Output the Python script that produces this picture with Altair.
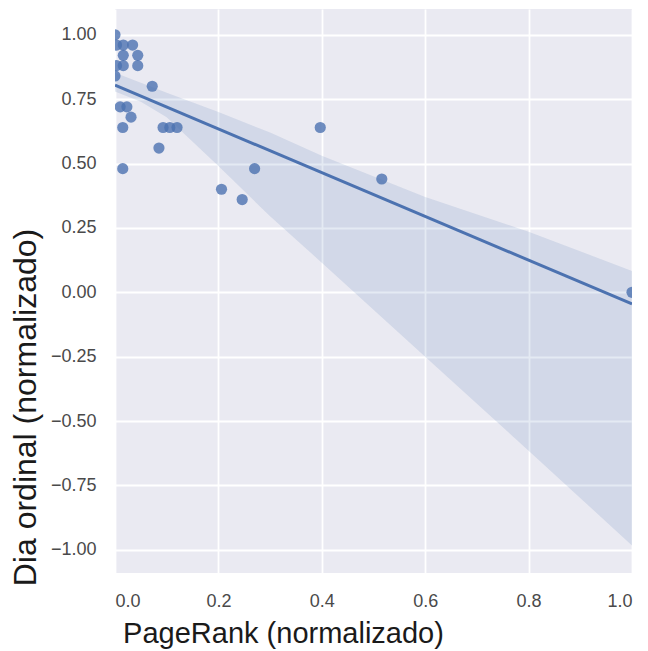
import altair as alt
import pandas as pd

# Scatter data
pagerank = [0.0, 0.003, 0.016, 0.034, 0.016, 0.044, 0.003, 0.016, 0.044, 0.0,
            0.072, 0.01, 0.023, 0.031, 0.015, 0.093, 0.106, 0.12, 0.085,
            0.015, 0.27, 0.397, 0.516, 0.206, 0.246, 1.0]
dia = [1.00, 0.96, 0.96, 0.96, 0.92, 0.92, 0.88, 0.88, 0.88, 0.84,
       0.80, 0.72, 0.72, 0.68, 0.64, 0.64, 0.64, 0.64, 0.56,
       0.48, 0.48, 0.64, 0.44, 0.40, 0.36, 0.00]

# Confidence band
band_x = [0.0, 0.05, 0.1, 0.2, 0.3, 0.4, 0.6, 0.8, 1.0]
band_lo = [0.78, 0.74, 0.68, 0.49, 0.295, 0.115, -0.25, -0.615, -0.983]
band_hi = [0.852, 0.814, 0.775, 0.70, 0.62, 0.53, 0.37, 0.235, 0.083]

x_ticks = [0.0, 0.2, 0.4, 0.6, 0.8, 1.0]
y_ticks = [-1.0, -0.75, -0.5, -0.25, 0.0, 0.25, 0.5, 0.75, 1.0]

pts = pd.DataFrame({"x": pagerank, "y": dia})
band = pd.DataFrame({"x": band_x, "lo": band_lo, "hi": band_hi})

BLUE = "#4C72B0"
FONT = "Liberation Sans"

xs = alt.Scale(domain=[0, 1], nice=False, zero=False)
ys = alt.Scale(domain=[-1.09, 1.10], nice=False, zero=False)

xaxis = alt.Axis(values=x_ticks, format=".1f", title="PageRank (normalizado)",
                 grid=True, domain=False, ticks=False, labelPadding=19,
                 labelFontSize=18, labelColor="#4a4a4a", labelFont=FONT,
                 titleFont=FONT, titleFontSize=29, titleFontWeight="normal",
                 titleColor="#1a1a1a", titleX=168, titleY=69,
                 titleBaseline="alphabetic", titleAlign="center")
yaxis = alt.Axis(values=y_ticks, format=".2f", title="Dia ordinal (normalizado)",
                 grid=True, domain=False, ticks=False, labelPadding=19,
                 labelFontSize=18, labelColor="#4a4a4a", labelFont=FONT,
                 titleFont=FONT, titleFontSize=32, titleFontWeight="normal",
                 titleColor="#1a1a1a", titleX=-80, titleY=398,
                 titleBaseline="alphabetic", titleAlign="center", titleAngle=270)

points = alt.Chart(pts).mark_circle(size=125, color=BLUE, opacity=0.8, clip=True).encode(
    x=alt.X("x:Q", scale=xs, axis=xaxis),
    y=alt.Y("y:Q", scale=ys, axis=yaxis),
)

area = alt.Chart(band).mark_area(color=BLUE, opacity=0.15, clip=True).encode(
    x=alt.X("x:Q", scale=xs),
    y=alt.Y("lo:Q", scale=ys),
    y2="hi:Q",
)

line = alt.Chart(pts).transform_regression("x", "y", extent=[0, 1]).mark_line(
    color=BLUE, strokeWidth=3, clip=True).encode(
    x=alt.X("x:Q", scale=xs),
    y=alt.Y("y:Q", scale=ys),
)

chart = alt.layer(points, area, line).properties(
    width=517, height=564,
    autosize=alt.AutoSizeParams(type="none"),
    padding={"left": 107, "top": 1, "right": 8, "bottom": 76},
).configure_view(fill="#EAEAF2", stroke=None).configure_axis(
    gridColor="white", gridWidth=1.8, gridOpacity=1
)

chart.save("out.html", embed_options={"renderer": "svg", "actions": False})
